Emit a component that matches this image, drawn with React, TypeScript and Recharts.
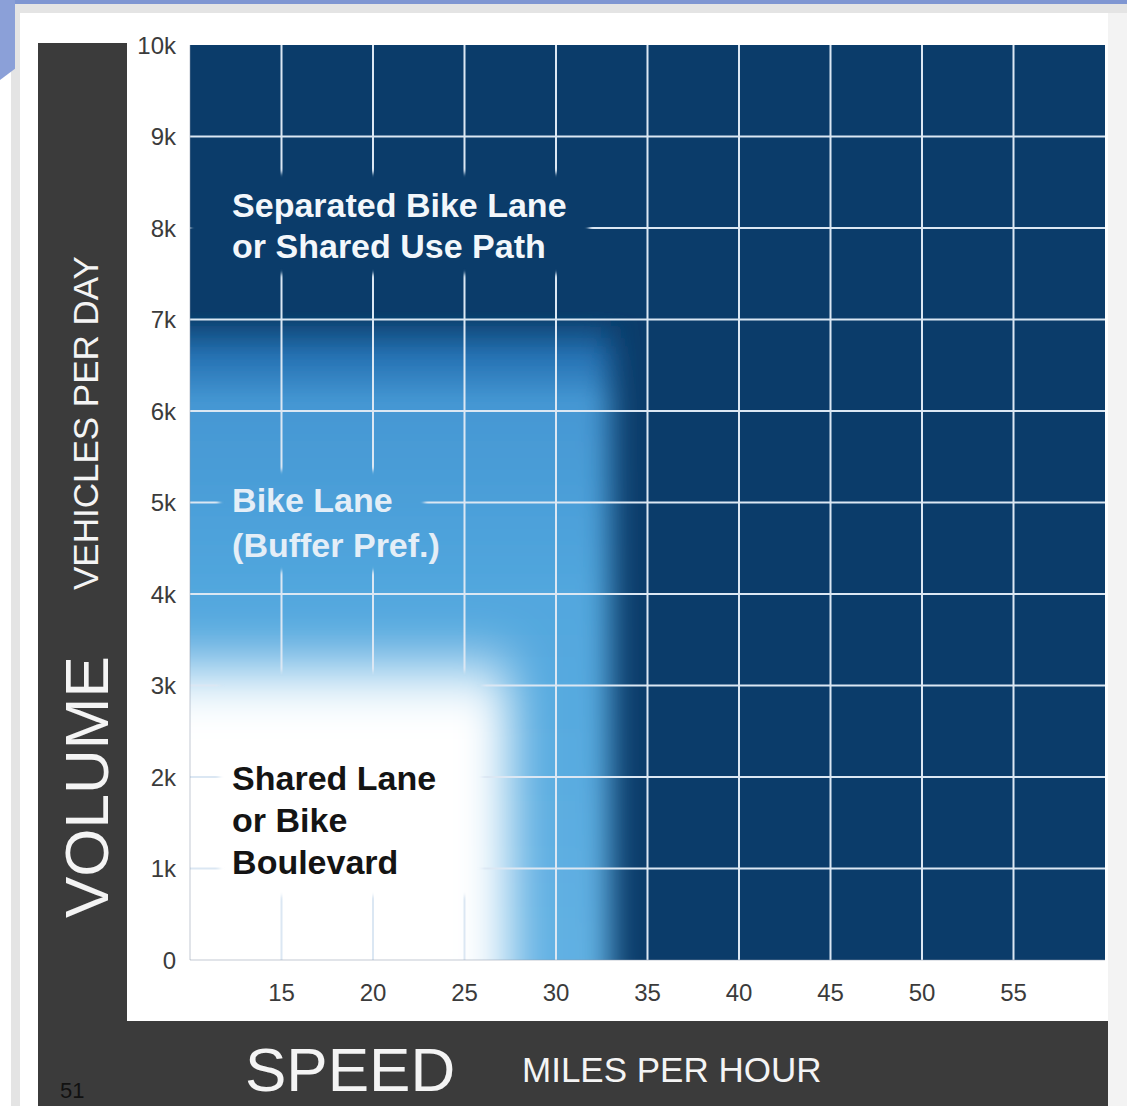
import React from "react";
import { ComposedChart, XAxis, YAxis, ReferenceArea, ReferenceLine, ReferenceDot } from "recharts";

const W = 1127;
const H = 1106;
const FONT = "'Liberation Sans', Arial, Helvetica, sans-serif";
const NAVY = "#0b3c6a";
const GRID = "#dbe7f3";

// axes
const speedDomain = [10, 60];
const volumeDomain = [0, 10000];
const speedTicks = [15, 20, 25, 30, 35, 40, 45, 50, 55];
const volumeTicks = [0, 1000, 2000, 3000, 4000, 5000, 6000, 7000, 8000, 9000, 10000];
const gridVolumes = [1000, 2000, 3000, 4000, 5000, 6000, 7000, 8000, 9000];

// facility zones, back to front: separated lane / bike lane / shared lane
const zoneSpeedMax = [60, 33, 27.5];
const zoneVolumeMax = [10000, 7000, 3200];

// zone labels
const labelLines = [
	["Separated Bike Lane", "or Shared Use Path"],
	["Bike Lane", "(Buffer Pref.)"],
	["Shared Lane", "or Bike", "Boulevard"],
];
const labelSpeed = [12.3, 12.3, 12.3];
const labelVolume = [8250, 5030, 1990];
const labelColors = ["#f3f7fb", "#e4eef7", "#141414"];
const labelLineHeight = [41, 45, 42];

// grid is left out behind each label
const clearSpeed = [
	[10, 31.8],
	[11.6, 22.8],
	[11.6, 26],
];
const clearVolume = [
	[7500, 8600],
	[4250, 5350],
	[700, 3150],
];

const formatVolume = (v: number) => (v === 0 ? "0" : `${v / 1000}k`);

const BackgroundShape = (p: any) => <rect x={p.x} y={p.y} width={p.width} height={p.height} fill={NAVY} />;

const blurredShape = (fill: string, filter: string) => (p: any) => (
	<g clipPath={p.clipPath}>
		<rect x={p.x} y={p.y} width={p.width} height={p.height} fill={fill} filter={filter} />
	</g>
);

const clearShape = (i: number) => (p: any) => (
	<mask id={`clear-${i}`} maskUnits="userSpaceOnUse" x={0} y={0} width={W} height={H}>
		<rect x={0} y={0} width={W} height={H} fill="#fff" />
		<rect x={p.x} y={p.y} width={p.width} height={p.height} fill="#000" filter="url(#soften)" />
	</mask>
);

const GridLineShape = (p: any) => (
	<g mask="url(#clear-0)">
		<g mask="url(#clear-1)">
			<g mask="url(#clear-2)">
				<line x1={p.x1} y1={p.y1} x2={p.x2} y2={p.y2} stroke={GRID} strokeWidth={2} />
			</g>
		</g>
	</g>
);

const zoneLabelShape = (i: number) => (p: any) => (
	<text x={p.cx} y={p.cy + 12} fill={labelColors[i]} fontFamily={FONT} fontSize={34} fontWeight="bold">
		{labelLines[i].map((line, k) => (
			<tspan key={k} x={p.cx} dy={k === 0 ? 0 : labelLineHeight[i]}>
				{line}
			</tspan>
		))}
	</text>
);

const SpeedTitle = (p: any) => {
	const { x, y } = p.viewBox;
	return (
		<g fill="#f4f4f4" fontFamily={FONT}>
			<text x={x + 55} y={y + 131} fontSize={62}>
				SPEED
			</text>
			<text x={x + 332} y={y + 122} fontSize={35}>
				MILES PER HOUR
			</text>
		</g>
	);
};

const VolumeTitle = (p: any) => {
	const { x, y } = p.viewBox;
	const ax = x - 22;
	const ay = y + 873;
	const bx = x - 32;
	const by = y + 545;
	return (
		<g fill="#f4f4f4" fontFamily={FONT}>
			<text x={ax} y={ay} fontSize={62} transform={`rotate(-90 ${ax} ${ay})`}>
				VOLUME
			</text>
			<text x={bx} y={by} fontSize={35} transform={`rotate(-90 ${bx} ${by})`}>
				VEHICLES PER DAY
			</text>
		</g>
	);
};

const box = (left: number, top: number, width: number, height: number, background: string): React.CSSProperties => ({
	position: "absolute",
	left,
	top,
	width,
	height,
	background,
});

const App = () => {
	return (
		<div style={{ position: "absolute", left: 0, top: 0, width: W, height: H, overflow: "hidden", background: "#fff" }}>
			<div style={box(11, 3, W - 11, H - 3, "#e4e4e4")} />
			<div style={box(1108, 13, W - 1108, H - 13, "#f3f3f3")} />
			<div style={box(20, 13, 1088, H - 13, "#fff")} />
			<div style={box(0, 0, W, 4, "#7f96d2")} />
			<div style={{ ...box(0, 0, 15, 80, "#8ba0d8"), clipPath: "polygon(0 0, 100% 0, 100% 86%, 0 100%)" }} />
			<div style={box(38, 43, 89, H - 43, "#3b3b3b")} />
			<div style={box(38, 1021, 1070, H - 1021, "#3b3b3b")} />
			<div style={{ position: "absolute", left: 60, top: 1080, fontSize: 22, lineHeight: "22px", fontFamily: FONT, color: "#111" }}>51</div>
			<div style={{ position: "absolute", left: 0, top: 0 }}>
				<ComposedChart width={W} height={H} data={[]} margin={{ top: 45, right: 22, bottom: 86, left: 130 }}>
					<defs>
						<linearGradient id="bikeLaneFill" x1="0" y1="0" x2="0" y2="1">
							<stop offset="0" stopColor="#0d4474" />
							<stop offset="0.04" stopColor="#2672b3" />
							<stop offset="0.09" stopColor="#4597d3" />
							<stop offset="0.3" stopColor="#52a7de" />
							<stop offset="1" stopColor="#6db8e6" />
						</linearGradient>
						<filter id="blurBikeLane" x="-20%" y="-20%" width="140%" height="140%">
							<feGaussianBlur stdDeviation="15 4" />
						</filter>
						<filter id="blurShared" x="-40%" y="-40%" width="180%" height="180%">
							<feGaussianBlur stdDeviation="24 30" />
						</filter>
						<filter id="soften">
							<feGaussianBlur stdDeviation="2" />
						</filter>
					</defs>

					<ReferenceArea
						x1={speedDomain[0]}
						x2={zoneSpeedMax[0]}
						y1={volumeDomain[0]}
						y2={zoneVolumeMax[0]}
						shape={BackgroundShape}
					/>
					<ReferenceArea
						x1={speedDomain[0] - 10}
						x2={zoneSpeedMax[1]}
						y1={volumeDomain[0] - 3000}
						y2={zoneVolumeMax[1]}
						ifOverflow="hidden"
						shape={blurredShape("url(#bikeLaneFill)", "url(#blurBikeLane)")}
					/>
					<ReferenceArea
						x1={speedDomain[0] - 10}
						x2={zoneSpeedMax[2]}
						y1={volumeDomain[0] - 3000}
						y2={zoneVolumeMax[2]}
						ifOverflow="hidden"
						shape={blurredShape("#ffffff", "url(#blurShared)")}
					/>

					{clearSpeed.map((s, i) => (
						<ReferenceArea
							key={`clear-${i}`}
							x1={s[0]}
							x2={s[1]}
							y1={clearVolume[i][0]}
							y2={clearVolume[i][1]}
							shape={clearShape(i)}
						/>
					))}

					{speedTicks.map((s) => (
						<ReferenceLine key={`vx-${s}`} x={s} shape={GridLineShape} />
					))}
					{gridVolumes.map((v) => (
						<ReferenceLine key={`hy-${v}`} y={v} shape={GridLineShape} />
					))}

					{labelLines.map((_, i) => (
						<ReferenceDot key={`label-${i}`} x={labelSpeed[i]} y={labelVolume[i]} shape={zoneLabelShape(i)} />
					))}

					<XAxis
						type="number"
						dataKey="speed"
						domain={speedDomain}
						ticks={speedTicks}
						interval={0}
						allowDataOverflow
						height={60}
						tickLine={false}
						tickSize={0}
						tickMargin={24}
						axisLine={{ stroke: "#8a99a8", strokeOpacity: 0.35, strokeWidth: 1.5 }}
						tick={{ fill: "#3b3b3b", fontSize: 24, fontFamily: FONT }}
						label={{ content: SpeedTitle }}
					/>
					<YAxis
						type="number"
						dataKey="volume"
						domain={volumeDomain}
						ticks={volumeTicks}
						interval={0}
						allowDataOverflow
						width={60}
						tickLine={false}
						tickSize={0}
						tickMargin={14}
						tickFormatter={formatVolume}
						axisLine={{ stroke: "#8a99a8", strokeOpacity: 0.35, strokeWidth: 1.5 }}
						tick={{ fill: "#3b3b3b", fontSize: 24, fontFamily: FONT }}
						label={{ content: VolumeTitle }}
					/>
				</ComposedChart>
			</div>
		</div>
	);
};

export default App;
